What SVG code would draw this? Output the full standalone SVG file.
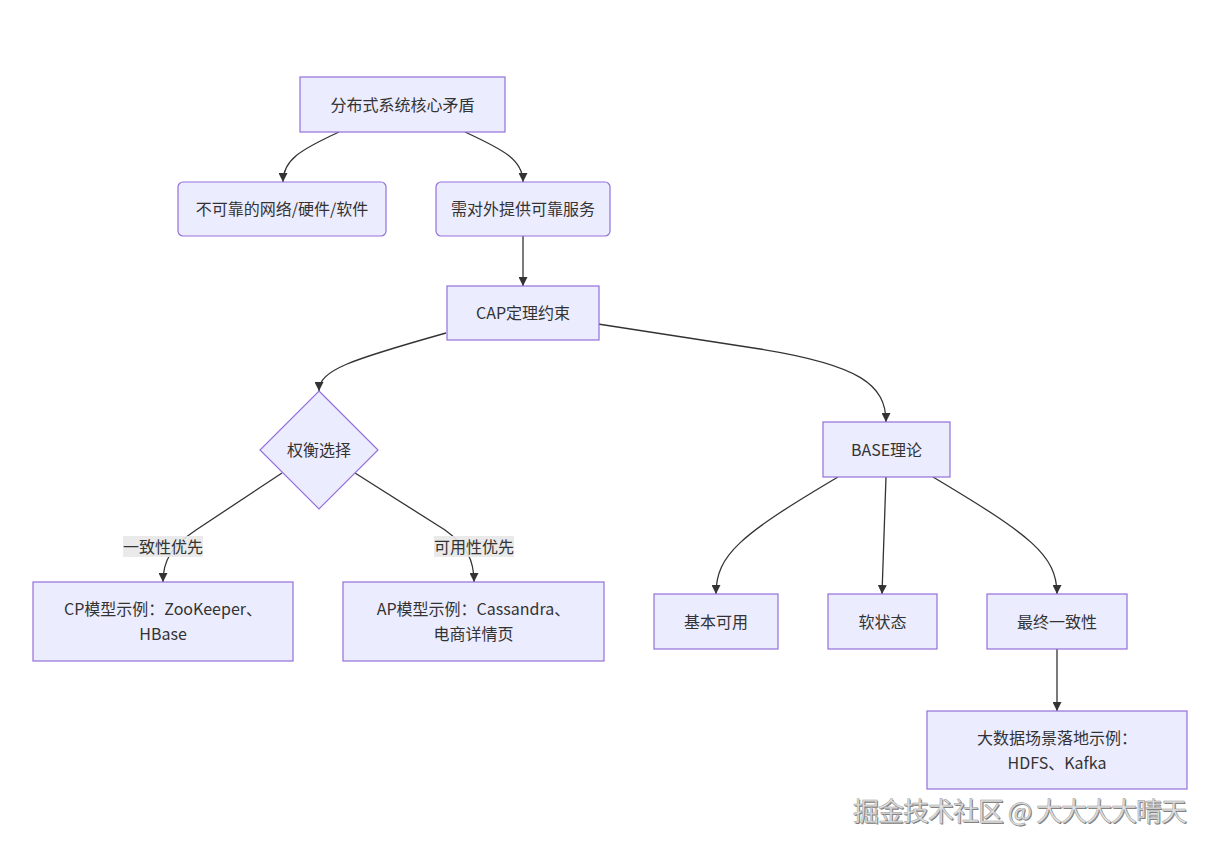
<svg xmlns="http://www.w3.org/2000/svg" width="1212" height="850" viewBox="0 0 1212 850">
<style>
.node rect, .node polygon { fill: #ECECFF; stroke: #9370DB; stroke-width: 1.2; }
.node text, .elabel text { font-family: "Noto Sans CJK SC", "Liberation Sans", sans-serif; font-size: 16px; fill: #333; text-anchor: middle; dominant-baseline: central; }
.edges path { fill: none; stroke: #333; stroke-width: 1.3; }
.elabel rect { fill: #e8e8e8; opacity: 0.9; }
.wm { font-family: "Noto Sans CJK SC", sans-serif; font-size: 26px; }
</style>
<defs>
<marker id="arr" viewBox="0 0 10 10" refX="10" refY="5" markerWidth="9" markerHeight="9" markerUnits="userSpaceOnUse" orient="auto">
<path d="M0,0 L10,5 L0,10 z" fill="#333"/>
</marker>
</defs>
<rect width="1212" height="850" fill="#fff"/>
<g class="edges" marker-end="url(#arr)">
<path d="M339,132 C300,150 283,160 283,182"/>
<path d="M465,132 C504,150 523,160 523,182"/>
<path d="M523,236 L523,286"/>
<path d="M446,333 C350,360 319,370 319,391"/>
<path d="M598,324 L760,349 C860,365 886,385 886,422"/>
<path d="M282,473 L196,530 C172,546 163,560 163,582"/>
<path d="M355,473 L445,530 C467,546 474,560 474,582"/>
<path d="M838,477 C740,535 716,555 716,594"/>
<path d="M886,477 L882,594"/>
<path d="M933,477 C1030,535 1057,555 1057,594"/>
<path d="M1057,649 L1057,711"/>
</g>
<g class="elabel" id="label-cp">
<rect x="123" y="536" width="80" height="21"/>
<text x="163" y="545.5">一致性优先</text>
</g>
<g class="elabel" id="label-ap">
<rect x="434" y="536" width="80" height="21"/>
<text x="474" y="545.5">可用性优先</text>
</g>
<g class="node" id="n-core">
<rect x="300" y="77" width="205" height="55"/>
<text x="402.5" y="103.5">分布式系统核心矛盾</text>
</g>
<g class="node" id="n-unreliable">
<rect x="178" y="182" width="208" height="54" rx="5"/>
<text x="282" y="208">不可靠的网络/硬件/软件</text>
</g>
<g class="node" id="n-service">
<rect x="436" y="182" width="174" height="54" rx="5"/>
<text x="523" y="208">需对外提供可靠服务</text>
</g>
<g class="node" id="n-cap">
<rect x="447" y="286" width="152" height="54"/>
<text x="523" y="312">CAP定理约束</text>
</g>
<g class="node" id="n-tradeoff">
<polygon points="319,391 378,450 319,509 260,450"/>
<text x="319" y="449">权衡选择</text>
</g>
<g class="node" id="n-base">
<rect x="823" y="422" width="127" height="55"/>
<text x="886.5" y="448.5">BASE理论</text>
</g>
<g class="node" id="n-cp">
<rect x="33" y="582" width="260" height="79"/>
<text x="163" y="608">CP模型示例：ZooKeeper、</text>
<text x="163" y="633">HBase</text>
</g>
<g class="node" id="n-ap">
<rect x="343" y="582" width="261" height="79"/>
<text x="473.5" y="608">AP模型示例：Cassandra、</text>
<text x="473.5" y="633">电商详情页</text>
</g>
<g class="node" id="n-ba">
<rect x="654" y="594" width="124" height="55"/>
<text x="716" y="620.5">基本可用</text>
</g>
<g class="node" id="n-soft">
<rect x="828" y="594" width="109" height="55"/>
<text x="882.5" y="620.5">软状态</text>
</g>
<g class="node" id="n-eventual">
<rect x="987" y="594" width="140" height="55"/>
<text x="1057" y="620.5">最终一致性</text>
</g>
<g class="node" id="n-bigdata">
<rect x="927" y="711" width="260" height="78"/>
<text x="1057" y="736.5">大数据场景落地示例：</text>
<text x="1057" y="761.5">HDFS、Kafka</text>
</g>
<g id="watermark">
<text class="wm" x="854" y="822" textLength="334" lengthAdjust="spacing" fill="#7a7a7a">掘金技术社区 @ 大大大大晴天</text>
<text class="wm" x="853" y="821" textLength="334" lengthAdjust="spacing" fill="#e2e2e2" stroke="#9a9a9a" stroke-width="0.5">掘金技术社区 @ 大大大大晴天</text>
</g>
</svg>
